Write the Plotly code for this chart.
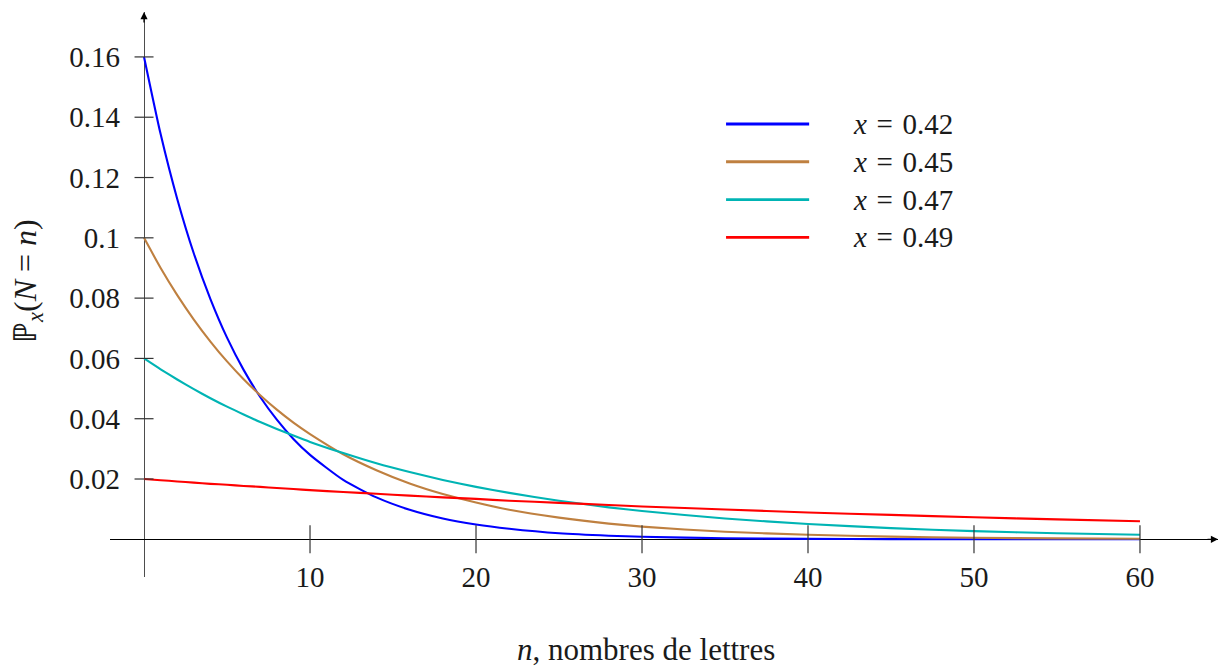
import plotly.graph_objects as go

# ---- data ----
n_values = [0, 1, 2, 3, 4, 5, 6, 7, 8, 9, 10, 12, 14, 16, 18, 20, 22, 25, 28, 30, 35, 40, 45, 50, 55, 60]

p_042 = [0.16, 0.1344, 0.1129, 0.0948, 0.0797, 0.0669, 0.0562, 0.0472, 0.0397, 0.0333, 0.0280,
         0.0197, 0.0139, 0.0098, 0.0069, 0.0049, 0.0035, 0.0020, 0.0012, 0.00085, 0.00035,
         0.00015, 0.00006, 0.00003, 0.00001, 0.000005]
p_045 = [0.1, 0.09, 0.081, 0.0729, 0.0656, 0.0590, 0.0531, 0.0478, 0.0430, 0.0387, 0.0349,
         0.0282, 0.0229, 0.0185, 0.0150, 0.0122, 0.0098, 0.0072, 0.0052, 0.0042, 0.0025,
         0.0015, 0.0009, 0.0005, 0.0003, 0.0002]
p_047 = [0.06, 0.0564, 0.0530, 0.0498, 0.0468, 0.0440, 0.0414, 0.0389, 0.0366, 0.0344, 0.0323,
         0.0286, 0.0252, 0.0223, 0.0197, 0.0174, 0.0154, 0.0128, 0.0106, 0.0094, 0.0069,
         0.0051, 0.0037, 0.0027, 0.0020, 0.0015]
p_049 = [0.02, 0.0196, 0.0192, 0.0188, 0.0184, 0.0181, 0.0177, 0.0174, 0.0170, 0.0167, 0.0163,
         0.0157, 0.0151, 0.0145, 0.0139, 0.0134, 0.0128, 0.0121, 0.0114, 0.0109, 0.0099,
         0.0089, 0.0081, 0.0073, 0.0066, 0.0060]

series_labels = ["x = 0.42", "x = 0.45", "x = 0.47", "x = 0.49"]
series_values = [p_042, p_045, p_047, p_049]
series_colors = ["#0000ff", "#bf8040", "#00b4b4", "#ff0000"]

x_tickvals = [10, 20, 30, 40, 50, 60]
y_tickvals = [0.02, 0.04, 0.06, 0.08, 0.1, 0.12, 0.14, 0.16]
y_ticktext = ["0.02", "0.04", "0.06", "0.08", "0.1", "0.12", "0.14", "0.16"]

# ---- layout geometry ----
X_RANGE = [-2.05, 64.7]
Y_RANGE = [-0.0125, 0.1749]
FONT = "Liberation Serif"
TICK_FONT = 29
TXT = "#1a1a1a"

fig = go.Figure()
for label, vals, col in zip(series_labels, series_values, series_colors):
    fig.add_trace(go.Scatter(x=n_values, y=vals, mode="lines", name=label,
                             line=dict(color=col, width=2.1, shape="spline", smoothing=0.6),
                             showlegend=False, hoverinfo="x+y+name"))

x_pos = (0 - Y_RANGE[0]) / (Y_RANGE[1] - Y_RANGE[0])
y_pos = (0 - X_RANGE[0]) / (X_RANGE[1] - X_RANGE[0])

fig.update_layout(
    width=1219, height=666,
    margin=dict(l=110, r=1, t=12, b=89),
    paper_bgcolor="white", plot_bgcolor="white",
    font=dict(family=FONT, size=TICK_FONT, color=TXT),
    xaxis=dict(range=X_RANGE, anchor="free", position=x_pos, showgrid=False,
               zeroline=True, zerolinecolor="#4d4d4d", zerolinewidth=1.3,
               showline=False, ticks="", tickvals=x_tickvals,
               tickfont=dict(family=FONT, size=TICK_FONT, color=TXT),
               ticklabelstandoff=18, automargin=False, fixedrange=True),
    yaxis=dict(range=Y_RANGE, anchor="free", position=y_pos, showgrid=False,
               zeroline=True, zerolinecolor="black", zerolinewidth=1.3,
               showline=False, ticks="", tickvals=y_tickvals, ticktext=y_ticktext,
               tickfont=dict(family=FONT, size=TICK_FONT, color=TXT),
               ticklabelstandoff=24, automargin=False, fixedrange=True),
)

# crossing tick marks
for v in x_tickvals:
    fig.add_shape(type="line", xref="x", yref="y", ysizemode="pixel", yanchor=0,
                  x0=v, x1=v, y0=-14, y1=14, line=dict(color="#333333", width=1.2))
for v in y_tickvals:
    fig.add_shape(type="line", xref="x", yref="y", xsizemode="pixel", xanchor=0,
                  y0=v, y1=v, x0=-9.5, x1=9.5, line=dict(color="#333333", width=1.2))

# axis arrows
fig.add_annotation(x=X_RANGE[1], y=0, xref="x", yref="y", ax=-12, ay=0, showarrow=True,
                   arrowhead=2, arrowsize=1.1, arrowwidth=1.3, arrowcolor="black", text="")
fig.add_annotation(x=0, y=Y_RANGE[1], xref="x", yref="y", ax=0, ay=12, showarrow=True,
                   arrowhead=2, arrowsize=1.1, arrowwidth=1.3, arrowcolor="black", text="")

# custom legend
legend_y = [0.8018, 0.735, 0.668, 0.601]
for label, col, ly in zip(series_labels, series_colors, legend_y):
    fig.add_shape(type="line", xref="paper", yref="paper", x0=0.556, x1=0.631, y0=ly, y1=ly,
                  line=dict(color=col, width=2.8))
    txt = "<i>x</i>\u2004=\u2004" + label.split("= ")[1]
    fig.add_annotation(x=0.669, y=ly, xref="paper", yref="paper", text=txt, showarrow=False,
                       xanchor="left", yanchor="middle",
                       font=dict(family=FONT, size=TICK_FONT, color=TXT))

# axis titles
fig.add_annotation(x=0.4838, y=-0.128, xref="paper", yref="paper",
                   text="<i>n</i>, nombres de lettres", showarrow=False,
                   xanchor="center", yanchor="middle",
                   font=dict(family=FONT, size=31, color=TXT))
fig.add_annotation(x=-0.074, y=0.524, xref="paper", yref="paper",
                   text="ℙ<sub><i>x</i></sub>(<i>N</i>\u2005=\u2005<i>n</i>)", showarrow=False,
                   textangle=-90, xanchor="center", yanchor="middle",
                   font=dict(family=FONT, size=32, color=TXT))

fig.write_html("out.html", config={"displayModeBar": False},
               post_script="document.body.style.margin='0';document.body.style.overflow='hidden';")
